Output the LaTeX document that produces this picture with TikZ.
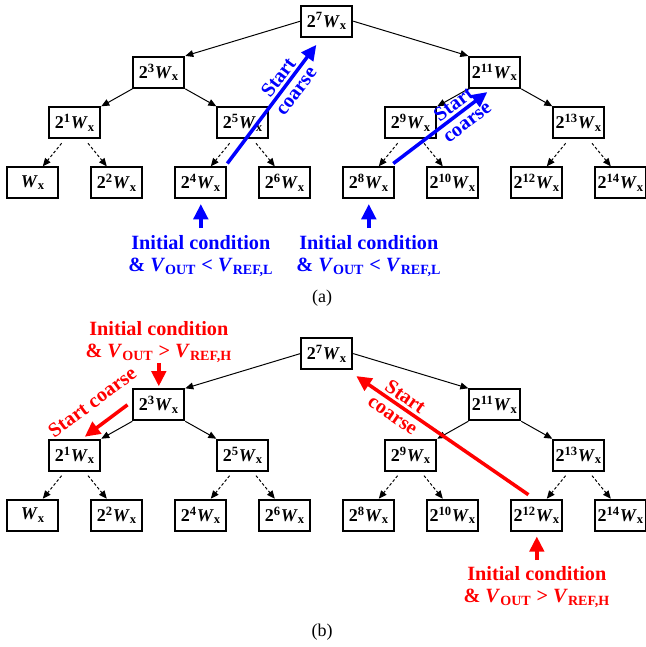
\documentclass[tikz,border=0pt]{standalone}
\usepackage{fontspec}
\setmainfont{Liberation Serif}
\usetikzlibrary{arrows.meta}

\newcommand{\Wx}[1]{2\textsuperscript{#1}\textit{W}\textsubscript{x}}
\newcommand{\Vo}{\textit{V}\textsubscript{OUT}}
\newcommand{\Vr}[1]{\textit{V}\textsubscript{REF,#1}}

\tikzset{
  wbox/.style={draw, line width=1.4pt, minimum width=1.275cm, minimum height=0.775cm,
    inner sep=0pt, font=\bfseries\fontsize{12.8}{15}\selectfont},
  tedge/.style={-{Triangle[length=2mm,width=1.7mm]}, line width=0.7pt},
  dedge/.style={tedge, dash pattern=on 2pt off 1.5pt},
  bluearr/.style={-{Triangle[length=3.8mm,width=3.6mm]}, line width=2.5pt, blue},
  redarr/.style={bluearr, red},
  cond/.style={align=center, inner sep=0pt, font=\bfseries\fontsize{14.4}{15.6}\selectfont},
}

\begin{document}
\begin{tikzpicture}
\useasboundingbox (0,0) rectangle (16.125,-16.175);

% the two search trees, (a) on top and (b) below
\foreach \t/\dy in {a/0, b/-8.31}{
  \begin{scope}[yshift=\dy cm]
    \node[wbox] (\t7) at (8.17,-0.53) {\Wx{7}};
    \node[wbox] (\t3) at (3.97,-1.81) {\Wx{3}};
    \node[wbox] (\t11) at (12.37,-1.81) {\Wx{11}};
    \foreach \n/\x in {1/1.87, 5/6.07, 9/10.27, 13/14.47}
      \node[wbox] (\t\n) at (\x,-3.07) {\Wx{\n}};
    \node[wbox] (\t0) at (0.82,-4.57) {\textit{W}\textsubscript{x}};
    \foreach \n/\x in {2/2.92, 4/5.02, 6/7.12, 8/9.22, 10/11.32, 12/13.42, 14/15.52}
      \node[wbox] (\t\n) at (\x,-4.57) {\Wx{\n}};

    % solid branches
    \draw[tedge] (\t7.west) -- (\t3.north east);
    \draw[tedge] (\t7.east) -- (\t11.north west);
    \foreach \p/\l/\r in {3/1/5, 11/9/13}{
      \draw[tedge] (\t\p.south west) -- (\t\l.north east);
      \draw[tedge] (\t\p.south east) -- (\t\r.north west);
    }
    % dashed branches to the leaves
    \foreach \p/\l/\r in {1/0/2, 5/4/6, 9/8/10, 13/12/14}{
      \draw[dedge] ([shift={(-0.33,-0.1)}]\t\p.south) -- ([xshift=0.25cm]\t\l.north);
      \draw[dedge] ([shift={(0.33,-0.1)}]\t\p.south) -- ([xshift=-0.25cm]\t\r.north);
    }
  \end{scope}
}

% (a): start from the low side
\node[cond, blue, anchor=north] (la1) at (5.02,-5.875) {Initial condition\\\& \Vo{} < \Vr{L}};
\node[cond, blue, anchor=north] (la2) at (9.22,-5.875) {Initial condition\\\& \Vo{} < \Vr{L}};
\draw[bluearr] ([yshift=0.17cm]la1.north) -- ([yshift=-0.12cm]a4.south);
\draw[bluearr] ([yshift=0.17cm]la2.north) -- ([yshift=-0.12cm]a8.south);
\draw[bluearr] ([yshift=0.07cm]a4.north east) -- ([shift={(0.4,-0.18)}]a7.south west)
  node[pos=.67, sloped, cond] {Start\\coarse};
\draw[bluearr] ([shift={(-0.05,0.07)}]a8.north east) -- ([shift={(0.475,-0.08)}]a11.south west)
  node[pos=.71, sloped, cond] {Start\\coarse};
\node[font=\fontsize{12.8}{15}\selectfont] (capa) at (8.05,-7.45) {(a)};

% (b): start from the high side
\node[cond, red, anchor=north] (lb1) at (3.97,-8.03) {Initial condition\\\& \Vo{} > \Vr{H}};
\node[cond, red, anchor=north] (lb2) at (13.42,-14.15) {Initial condition\\\& \Vo{} > \Vr{H}};
\draw[redarr] (lb1.south) -- ([yshift=0.05cm]b3.north);
\draw[redarr] ([yshift=0.15cm]lb2.north) -- ([yshift=-0.12cm]b12.south);
\draw[redarr] ([xshift=-0.12cm]b3.west) -- ([shift={(0.25,0.05)}]b1.north)
  node[midway, sloped, cond, above=0.37cm] {Start coarse};
\draw[redarr] ([shift={(-0.21,0.1)}]b12.north) -- ([shift={(0.075,-0.15)}]b7.south east)
  node[pos=.75, sloped, cond] {Start\\coarse};
\node[font=\fontsize{12.8}{15}\selectfont] (capb) at (8.05,-15.8) {(b)};
\end{tikzpicture}
\end{document}
